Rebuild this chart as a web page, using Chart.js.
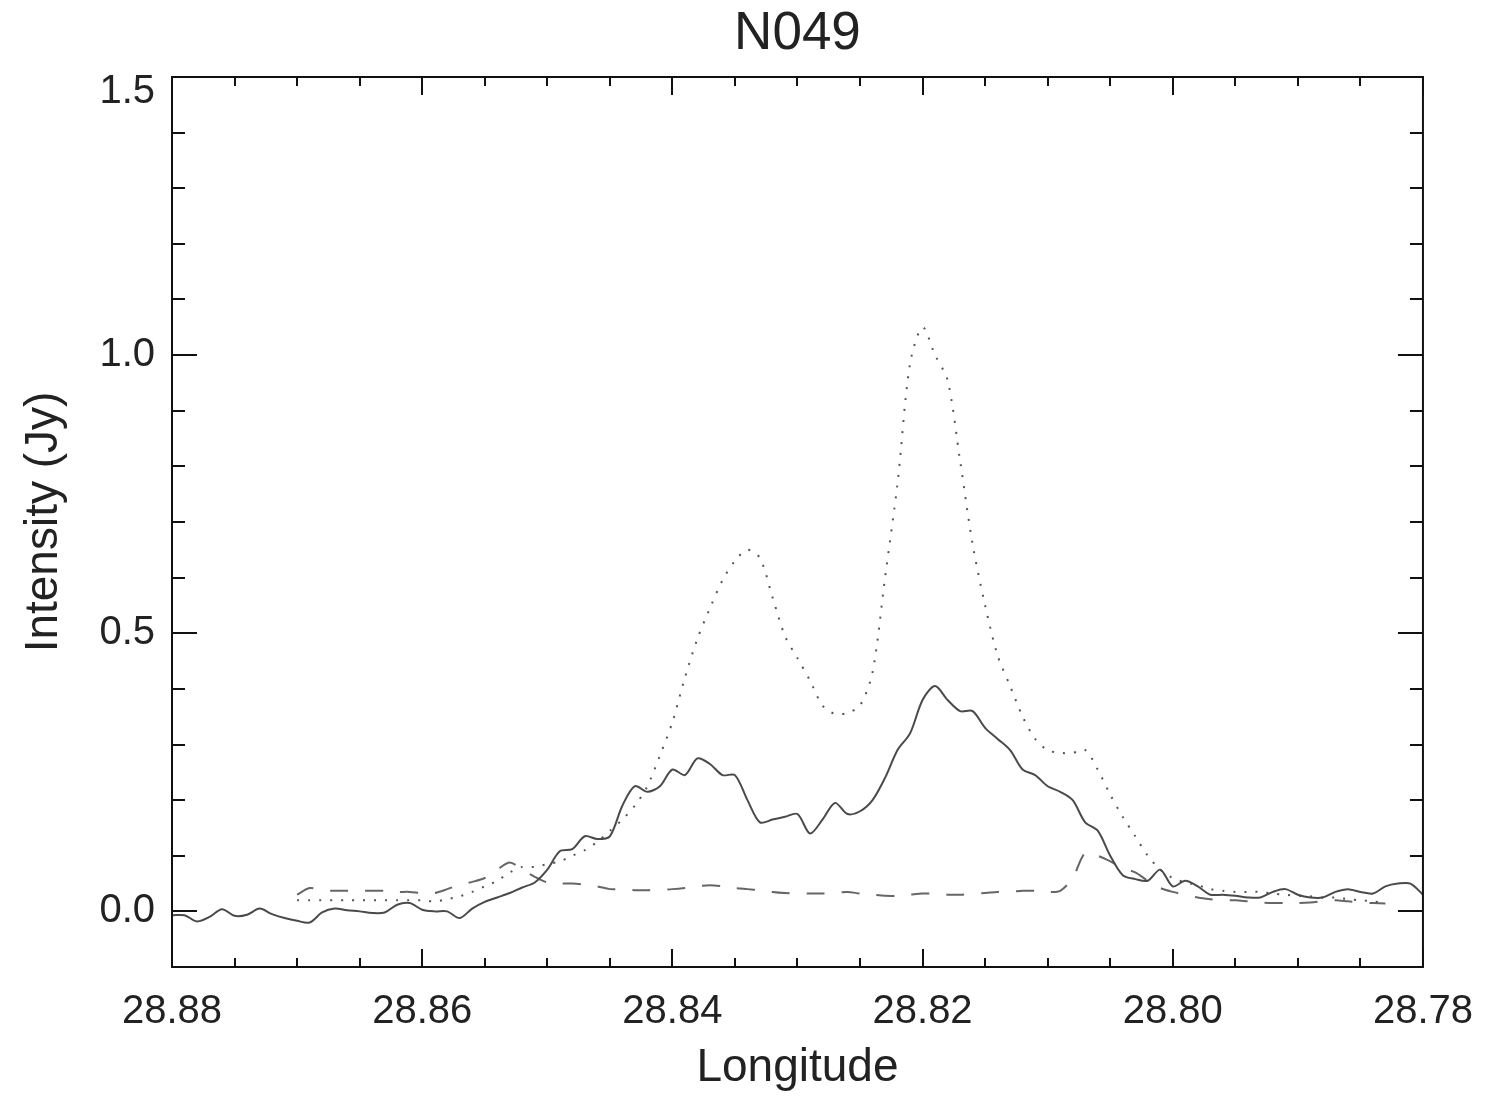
<!DOCTYPE html>
<html>
<head>
<meta charset="utf-8">
<title>N049</title>
<script src="https://cdn.jsdelivr.net/npm/chart.js@4.4.1/dist/chart.umd.min.js"></script>
<style>
  body { margin: 0; background: #fff; }
  #profile { display: block; }
</style>
</head>
<body>
<canvas id="profile" width="1494" height="1097"></canvas>
<script>
// longitude grid (deg), one sample every 0.001
const longitude = [
  28.880, 28.879, 28.878, 28.877, 28.876, 28.875, 28.874, 28.873, 28.872, 28.871,
  28.870, 28.869, 28.868, 28.867, 28.866, 28.865, 28.864, 28.863, 28.862, 28.861,
  28.860, 28.859, 28.858, 28.857, 28.856, 28.855, 28.854, 28.853, 28.852, 28.851,
  28.850, 28.849, 28.848, 28.847, 28.846, 28.845, 28.844, 28.843, 28.842, 28.841,
  28.840, 28.839, 28.838, 28.837, 28.836, 28.835, 28.834, 28.833, 28.832, 28.831,
  28.830, 28.829, 28.828, 28.827, 28.826, 28.825, 28.824, 28.823, 28.822, 28.821,
  28.820, 28.819, 28.818, 28.817, 28.816, 28.815, 28.814, 28.813, 28.812, 28.811,
  28.810, 28.809, 28.808, 28.807, 28.806, 28.805, 28.804, 28.803, 28.802, 28.801,
  28.800, 28.799, 28.798, 28.797, 28.796, 28.795, 28.794, 28.793, 28.792, 28.791,
  28.790, 28.789, 28.788, 28.787, 28.786, 28.785, 28.784, 28.783, 28.782, 28.781,
  28.780
];

// observed intensity (Jy), full strip
const observed = [
  -0.007, -0.007, -0.018, -0.010, 0.004, -0.008, -0.006, 0.005, -0.005, -0.012,
  -0.017, -0.020, -0.002, 0.005, 0.002, 0.000, -0.003, -0.002, 0.012, 0.015,
  0.003, 0.000, 0.000, -0.012, 0.005, 0.017, 0.025, 0.033, 0.043, 0.052,
  0.075, 0.108, 0.112, 0.135, 0.130, 0.135, 0.190, 0.225, 0.215, 0.225,
  0.255, 0.245, 0.275, 0.265, 0.245, 0.245, 0.200, 0.160, 0.165, 0.170,
  0.175, 0.140, 0.165, 0.195, 0.175, 0.180, 0.200, 0.240, 0.290, 0.320,
  0.380, 0.405, 0.380, 0.360, 0.360, 0.330, 0.310, 0.290, 0.255, 0.245,
  0.225, 0.215, 0.200, 0.160, 0.145, 0.100, 0.065, 0.058, 0.055, 0.075,
  0.045, 0.055, 0.045, 0.030, 0.030, 0.028, 0.025, 0.025, 0.035, 0.040,
  0.030, 0.025, 0.025, 0.035, 0.040, 0.035, 0.032, 0.045, 0.050, 0.050,
  0.030
];

// model profiles cover 28.870 .. 28.783 only
const modelStart = 10;
const modelEnd = 98;

const modelTotal = [
  0.020, 0.020, 0.020, 0.020, 0.020, 0.020, 0.020, 0.020, 0.020, 0.020,
  0.020, 0.018, 0.022, 0.027, 0.035, 0.045, 0.055, 0.070, 0.080, 0.080,
  0.085, 0.090, 0.100, 0.110, 0.125, 0.145, 0.165, 0.190, 0.225, 0.280,
  0.340, 0.420, 0.490, 0.545, 0.595, 0.630, 0.650, 0.635, 0.565, 0.495,
  0.455, 0.415, 0.370, 0.355, 0.357, 0.370, 0.430, 0.600, 0.770, 0.985,
  1.050, 1.000, 0.955, 0.810, 0.660, 0.550, 0.460, 0.405, 0.350, 0.310,
  0.290, 0.285, 0.285, 0.290, 0.255, 0.210, 0.170, 0.135, 0.100, 0.075,
  0.060, 0.052, 0.047, 0.040, 0.037, 0.035, 0.035, 0.035, 0.032, 0.030,
  0.028, 0.027, 0.025, 0.025, 0.022, 0.020, 0.018, 0.015
];

const background = [
  0.030, 0.042, 0.038, 0.037, 0.037, 0.037, 0.037, 0.037, 0.035, 0.035,
  0.033, 0.033, 0.040, 0.048, 0.053, 0.060, 0.075, 0.088, 0.075, 0.062,
  0.052, 0.050, 0.050, 0.048, 0.045, 0.040, 0.040, 0.038, 0.038, 0.039,
  0.040, 0.042, 0.045, 0.047, 0.045, 0.042, 0.040, 0.038, 0.035, 0.033,
  0.032, 0.032, 0.032, 0.033, 0.035, 0.032, 0.030, 0.028, 0.028, 0.030,
  0.032, 0.032, 0.030, 0.030, 0.032, 0.033, 0.035, 0.035, 0.037, 0.037,
  0.035, 0.037, 0.060, 0.105, 0.100, 0.090, 0.078, 0.070, 0.055, 0.042,
  0.035, 0.030, 0.025, 0.022, 0.020, 0.020, 0.018, 0.016, 0.015, 0.015,
  0.015, 0.016, 0.018, 0.020, 0.018, 0.016, 0.015, 0.014
];

const xTickValues = [28.88, 28.86, 28.84, 28.82, 28.80, 28.78];
const yTickValues = [0.0, 0.5, 1.0, 1.5];

const modelLon = longitude.slice(modelStart, modelEnd);
const toPoints = (xs, ys) => xs.map((x, i) => ({ x: x, y: ys[i] }));

const labelFont = 'Liberation Sans, Arial, sans-serif';
const ink = '#222';

// boxed frame with inward major/minor ticks on all four sides
const frameTicks = {
  id: 'frameTicks',
  afterDraw(chart) {
    const { ctx, chartArea: a, scales: { x, y } } = chart;
    ctx.save();
    ctx.strokeStyle = '#111';
    ctx.lineWidth = 2;
    ctx.strokeRect(a.left, a.top, a.right - a.left, a.bottom - a.top);
    ctx.beginPath();
    for (let k = 0; k <= 20; k++) {
      const px = Math.round(x.getPixelForValue(28.78 + k * 0.005));
      const len = k % 4 === 0 ? 18 : 9;
      ctx.moveTo(px, a.bottom);
      ctx.lineTo(px, a.bottom - len);
      ctx.moveTo(px, a.top);
      ctx.lineTo(px, a.top + len);
    }
    for (let k = -1; k <= 15; k++) {
      const py = Math.round(y.getPixelForValue(k * 0.1));
      const len = k % 5 === 0 ? 25 : 13;
      ctx.moveTo(a.left, py);
      ctx.lineTo(a.left + len, py);
      ctx.moveTo(a.right, py);
      ctx.lineTo(a.right - len, py);
    }
    ctx.stroke();
    ctx.restore();
  }
};

const data = {
  datasets: [
    {
      label: 'observed',
      data: toPoints(longitude, observed),
      borderColor: '#4a4a4a',
      borderWidth: 2,
      tension: 0.3,
    },
    {
      label: 'total',
      data: toPoints(modelLon, modelTotal),
      borderColor: '#555',
      borderWidth: 2,
      borderDash: [2, 9],
      tension: 0.3,
    },
    {
      label: 'background',
      data: toPoints(modelLon, background),
      borderColor: '#666',
      borderWidth: 2,
      borderDash: [18, 17],
      tension: 0.3,
    },
  ],
};

const config = {
  type: 'line',
  data: data,
  options: {
    responsive: false,
    animation: false,
    devicePixelRatio: 1,
    elements: { point: { radius: 0 } },
    layout: { padding: { left: 0, right: 69, top: 0, bottom: 0 } },
    plugins: {
      legend: { display: false },
      tooltip: { enabled: false },
      title: {
        display: true,
        fullSize: false, // centre over the plot box, not the canvas
        text: 'N049',
        color: ink,
        font: { family: labelFont, size: 53, weight: 'normal' },
        padding: { top: 3, bottom: 10.4 },
      },
    },
    scales: {
      x: {
        type: 'linear',
        reverse: true,
        min: 28.78,
        max: 28.88,
        grid: { display: false, drawTicks: false },
        border: { display: false },
        afterBuildTicks: (scale) => {
          scale.ticks = xTickValues.map((v) => ({ value: v }));
        },
        afterFit: (scale) => {
          scale.height = 130;
        },
        ticks: {
          color: ink,
          padding: 21,
          maxRotation: 0,
          autoSkip: false,
          font: { family: labelFont, size: 40 },
          callback: (v) => v.toFixed(2),
        },
        title: {
          display: true,
          text: 'Longitude',
          color: ink,
          font: { family: labelFont, size: 46 },
          padding: { top: 0, bottom: 1.4 },
        },
      },
      y: {
        type: 'linear',
        min: -0.1,
        max: 1.5,
        grid: { display: false, drawTicks: false },
        border: { display: false },
        afterBuildTicks: (scale) => {
          scale.ticks = yTickValues.map((v) => ({ value: v }));
        },
        afterFit: (scale) => {
          scale.width = 172;
        },
        ticks: {
          color: ink,
          padding: 17,
          autoSkip: false,
          font: (c) => ({
            family: labelFont,
            size: 40,
            lineHeight: c.tick && c.tick.value === 1.5 ? 0.75 : 1.2,
          }),
          // top label sits just under the frame corner
          callback: (v) => (v === 1.5 ? ['', v.toFixed(1)] : v.toFixed(1)),
        },
        title: {
          display: true,
          text: 'Intensity (Jy)',
          color: ink,
          font: { family: labelFont, size: 46 },
          padding: { top: 16.4, bottom: 0 },
        },
      },
    },
  },
  plugins: [frameTicks],
};

new Chart(document.getElementById('profile').getContext('2d'), config);
</script>
</body>
</html>
